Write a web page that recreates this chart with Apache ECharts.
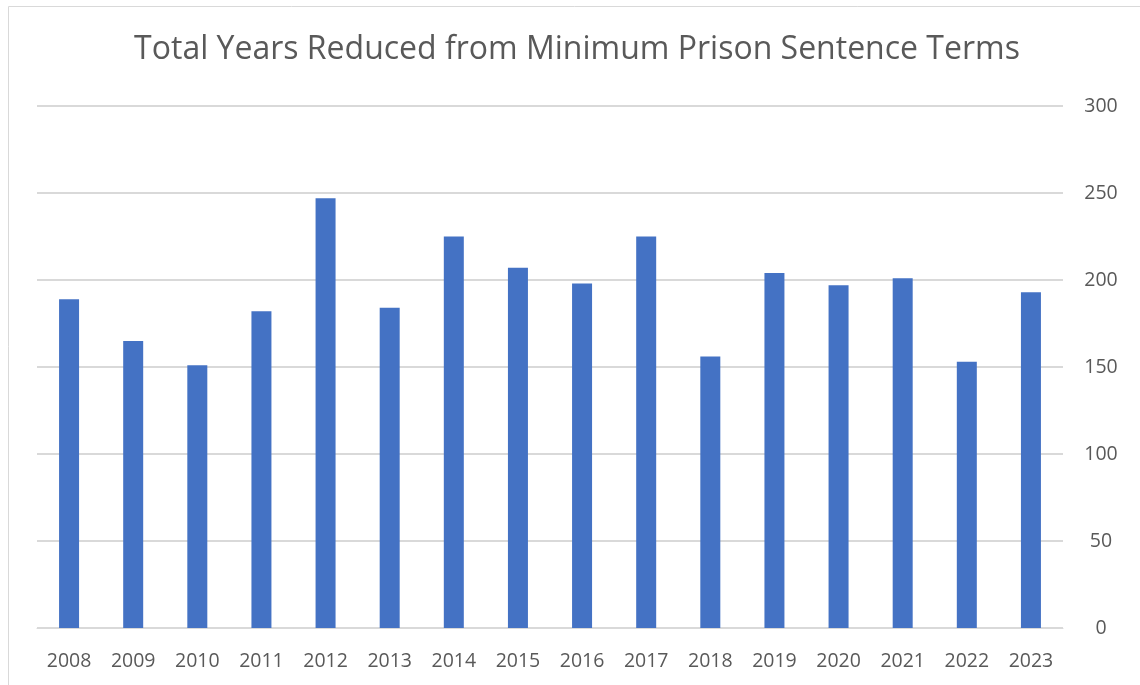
<!DOCTYPE html>
<html>
<head>
<meta charset="utf-8">
<script src="https://cdn.jsdelivr.net/npm/echarts@6/dist/echarts.min.js"></script>
<style>
html,body{margin:0;padding:0;background:#fff;}
#chart{width:1140px;height:685px;}
</style>
</head>
<body>
<div id="chart"></div>
<script>
const titleText = 'Total Years Reduced from Minimum Prison Sentence Terms';
const years = ['2008','2009','2010','2011','2012','2013','2014','2015','2016','2017','2018','2019','2020','2021','2022','2023'];
const yearsReduced = [189,165,151,182,247,184,225,207,198,225,156,204,197,201,153,193];
const yTicks = [0,50,100,150,200,250,300];

const chart = echarts.init(document.getElementById('chart'));
const font = '"Open Sans", "Noto Sans", sans-serif';
chart.setOption({
  animation: false,
  title: {
    text: titleText,
    left: 572,
    textAlign: 'center',
    top: 29,
    textStyle: {fontFamily: font, fontSize: 32, fontWeight: 'normal', color: '#595959'}
  },
  graphic: [{
    type: 'rect', shape: {x: 8.5, y: 6.5, width: 1140, height: 690},
    style: {fill: 'none', stroke: '#d9d9d9', lineWidth: 1}, silent: true
  }],
  grid: {left: 37, right: 77, top: 106, bottom: 57, containLabel: false},
  xAxis: {
    type: 'category',
    data: years,
    axisTick: {show: false},
    axisLine: {lineStyle: {color: '#d9d9d9', width: 1}},
    axisLabel: {fontFamily: font, fontSize: 19.5, color: '#595959', margin: 23}
  },
  yAxis: {
    type: 'value',
    position: 'right',
    min: yTicks[0],
    max: yTicks[yTicks.length - 1],
    interval: 50,
    axisLine: {show: false},
    axisTick: {show: false},
    splitLine: {lineStyle: {color: '#d9d9d9', width: 2}},
    axisLabel: {fontFamily: font, fontSize: 19.5, color: '#595959', margin: 38, align: 'center'}
  },
  series: [{
    type: 'bar',
    data: yearsReduced,
    barWidth: 20,
    itemStyle: {color: '#4472c4'}
  }]
});
</script>
</body>
</html>
